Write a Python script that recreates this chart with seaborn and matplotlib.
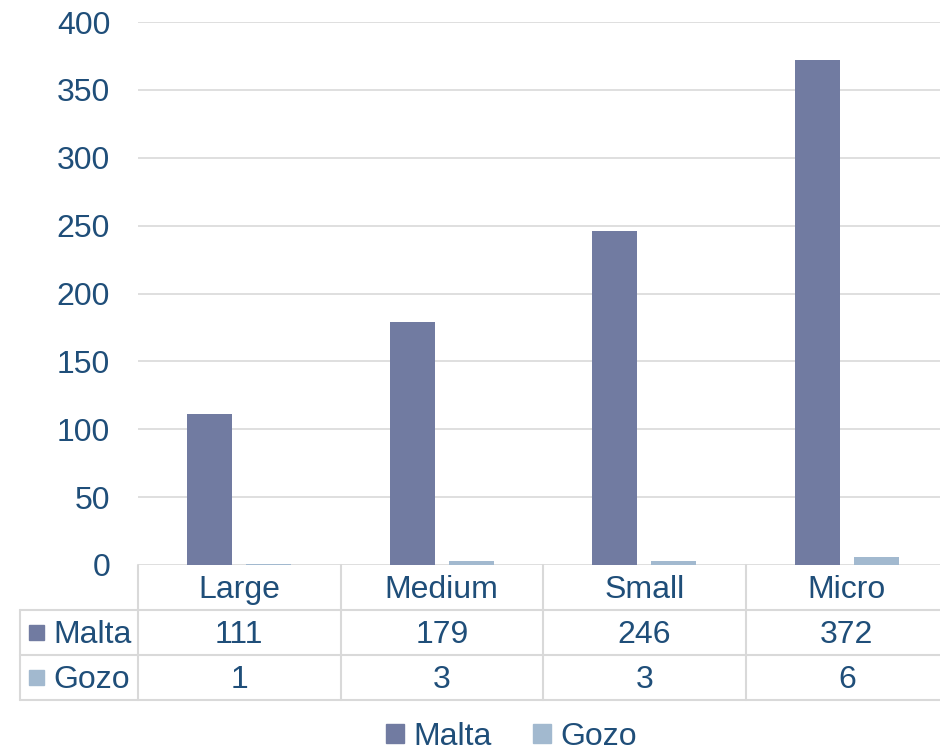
import pandas as pd
import seaborn as sns
import matplotlib.pyplot as plt
from matplotlib.patches import Rectangle
from matplotlib.transforms import blended_transform_factory

# data
categories = ["Large", "Medium", "Small", "Micro"]
series = ["Malta", "Gozo"]
malta = [111, 179, 246, 372]
gozo = [1, 3, 3, 6]
yticks = [0, 50, 100, 150, 200, 250, 300, 350, 400]

colors = ["#717BA1", "#A2B9CF"]
text_color = "#1F4E79"
grid_color = "#D9D9D9"
fs = 23

df = pd.DataFrame({
    "size": categories * 2,
    "count": malta + gozo,
    "region": [series[0]] * len(malta) + [series[1]] * len(gozo),
})

sns.set_theme(style="white")
plt.rcParams["font.family"] = ["Liberation Sans", "DejaVu Sans"]

W, H = 940, 751
fig = plt.figure(figsize=(W / 100, H / 100), dpi=100)
# plot area in pixels: left 138, top 22, bottom 565, 4 categories of 202.5 px
ax = fig.add_axes([138 / W, 1 - 565 / H, 810 / W, 543 / H])

sns.barplot(data=df, x="size", y="count", hue="region", order=categories,
            hue_order=series, palette=colors, saturation=1, width=0.58,
            gap=0.23, linewidth=0, ax=ax)
if ax.get_legend() is not None:
    ax.get_legend().remove()

ax.set_xlim(-0.5, len(categories) - 0.5)
ax.set_ylim(0, 400)
ax.set_yticks(yticks)
ax.set_yticklabels([str(t) for t in yticks], fontsize=fs, color=text_color)
ax.set_xticks([])
ax.set_xlabel("")
ax.set_ylabel("")
ax.tick_params(axis="y", length=0, pad=20)
ax.yaxis.grid(True, color=grid_color, lw=1.2)
ax.set_axisbelow(True)
for s in ax.spines.values():
    s.set_visible(False)

# data table below the axis
trans = blended_transform_factory(ax.transData, ax.transAxes)
h = 45 / 543
dy = 2.5 / 543  # nudge text down a little
xl = -118 / 810
line_kw = dict(color=grid_color, lw=1.5, clip_on=False)

for k in range(1, 4):
    ax.plot([xl, 1.02], [-k * h, -k * h], transform=ax.transAxes, **line_kw)
ax.plot([0, 0], [0, -3 * h], transform=ax.transAxes, **line_kw)
ax.plot([xl, xl], [-h, -3 * h], transform=ax.transAxes, **line_kw)
for b in range(len(categories) - 1):
    ax.plot([b + 0.5, b + 0.5], [0, -3 * h], transform=trans, **line_kw)

for i, cat in enumerate(categories):
    ax.text(i, -0.5 * h - dy, cat, transform=trans, ha="center", va="center",
            fontsize=fs, color=text_color)
    ax.text(i, -1.5 * h - dy, str(malta[i]), transform=trans, ha="center",
            va="center", fontsize=fs, color=text_color)
    ax.text(i, -2.5 * h - dy, str(gozo[i]), transform=trans, ha="center",
            va="center", fontsize=fs, color=text_color)

sq_w, sq_h = 15 / 810, 15 / 543
for r, (name, c) in enumerate(zip(series, colors)):
    yc = -(1.5 + r) * h
    ax.add_patch(Rectangle(((29 - 138) / 810, yc - sq_h / 2), sq_w, sq_h,
                           transform=ax.transAxes, color=c, clip_on=False))
    ax.text((53 - 138) / 810, yc - dy, name, transform=ax.transAxes,
            ha="left", va="center", fontsize=fs, color=text_color)

# legend at bottom
handles = [Rectangle((0, 0), 1, 1, color=c) for c in colors]
fig.legend(handles, series, loc="center", bbox_to_anchor=(0.544, 0.019),
           ncol=2, frameon=False, fontsize=fs, handlelength=0.55,
           handleheight=0.55, handletextpad=0.3, columnspacing=1.3,
           labelcolor=text_color)

fig.savefig("out.png", dpi=100)
plt.close(fig)
